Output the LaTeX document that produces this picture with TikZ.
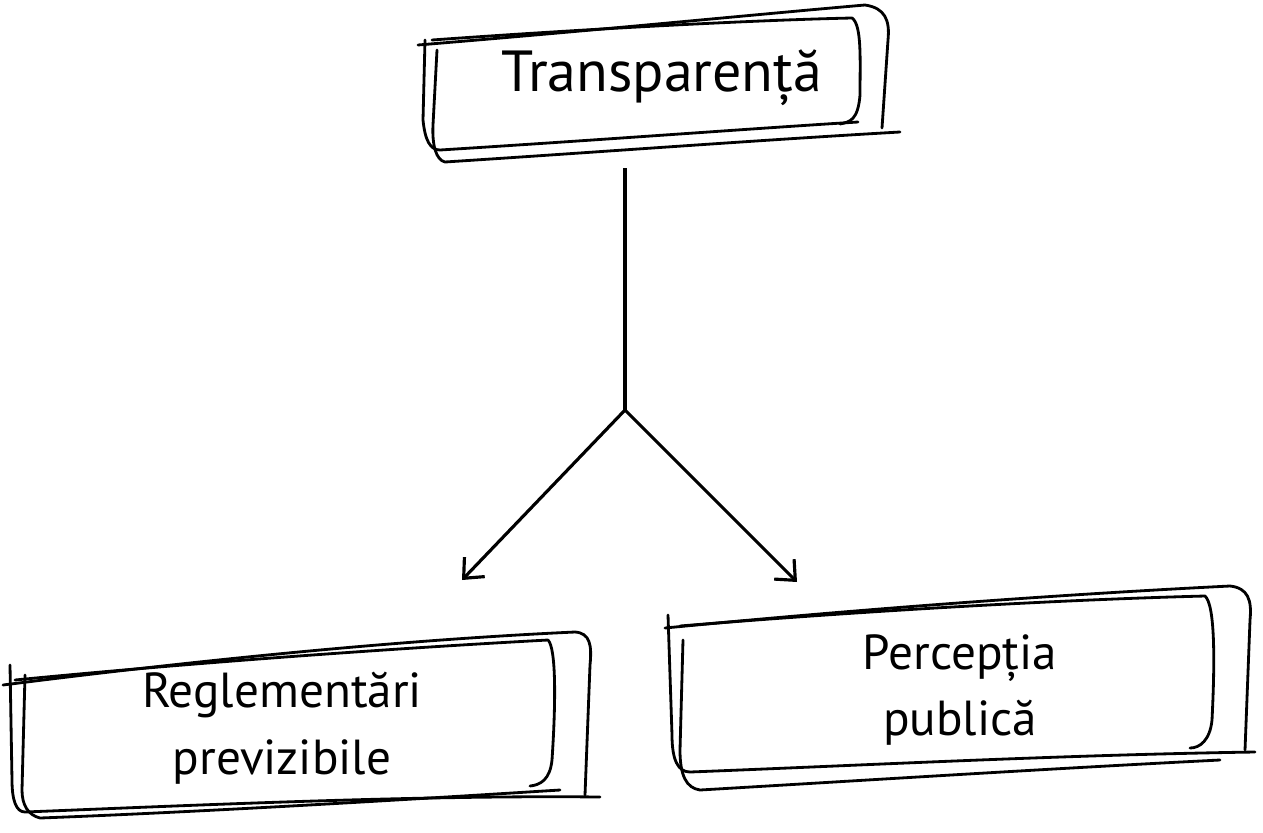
\documentclass[tikz,border=0pt]{standalone}
\usepackage{fontspec}
\setmainfont{PT Sans}
\usetikzlibrary{arrows.meta}
\begin{document}
\begin{tikzpicture}[x=0.02cm,y=-0.02cm,
  sk/.style={line width=1.6pt,line cap=round,line join=round},
  lbl/.style={align=center,font=\fontsize{28}{38}\selectfont},
  con/.style={line width=1.8pt,-{Straight Barb[length=9pt,width=16pt,line width=1.8pt]}}]
\useasboundingbox (0,0) rectangle (1263,832);
% top box
\draw[sk] (418,45) .. controls (600,30) and (750,15) .. (865,5) .. controls (885,8) and (890,20) .. (888,40) -- (882,128);
\draw[sk] (432,40) .. controls (600,28) and (760,20) .. (852,18) .. controls (862,25) and (860,60) .. (860,95) .. controls (858,120) and (850,122) .. (840,124);
\draw[sk] (425,40) -- (423,120) .. controls (425,140) and (430,150) .. (440,150) .. controls (600,140) and (760,128) .. (858,122);
\draw[sk] (437,50) -- (433,125) .. controls (432,145) and (436,160) .. (445,162) .. controls (600,152) and (760,140) .. (900,132);
\node[lbl,font=\fontsize{33}{40}\selectfont] (t) at (662,78) {Transparență};
% left box
\draw[sk] (3,685) .. controls (200,660) and (400,640) .. (575,632) .. controls (590,633) and (592,645) .. (590,665) -- (585,795);
\draw[sk] (15,680) .. controls (200,662) and (400,648) .. (548,640) .. controls (556,648) and (556,700) .. (552,760) .. controls (550,780) and (540,785) .. (530,786);
\draw[sk] (10,665) -- (12,780) .. controls (12,800) and (16,812) .. (25,812) .. controls (200,805) and (420,795) .. (600,797);
\draw[sk] (25,675) -- (22,790) .. controls (22,805) and (28,815) .. (40,818) .. controls (200,812) and (400,800) .. (560,790);
\node[lbl] (l) at (282,728) {Reglementări\\previzibile};
% right box
\draw[sk] (665,628) .. controls (850,610) and (1050,595) .. (1230,586) .. controls (1248,588) and (1252,600) .. (1250,620) -- (1245,750);
\draw[sk] (680,626) .. controls (850,612) and (1050,600) .. (1205,596) .. controls (1215,605) and (1215,660) .. (1212,720) .. controls (1210,740) and (1200,748) .. (1190,748);
\draw[sk] (668,615) -- (672,735) .. controls (672,760) and (678,772) .. (690,772) .. controls (870,765) and (1060,755) .. (1255,752);
\draw[sk] (683,640) -- (680,750) .. controls (680,775) and (686,788) .. (700,790) .. controls (870,780) and (1060,768) .. (1220,760);
\node[lbl] (r) at (960,690) {Percepția\\publică};
% connectors
\coordinate (s) at (625,168);
\coordinate (j) at (625,410);
\coordinate (le) at (462,580);
\coordinate (re) at (797,582);
\draw[line width=1.8pt] (s) -- (j);
\draw[con] (j) -- (le);
\draw[con] (j) -- (re);
\end{tikzpicture}
\end{document}
